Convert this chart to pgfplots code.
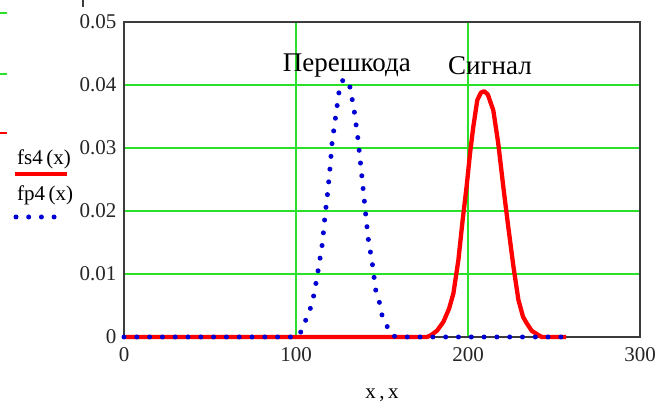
\documentclass[border=0pt]{standalone}
\usepackage{fontspec}
\setmainfont{Liberation Serif}
\usepackage{pgfplots}
\pgfplotsset{compat=1.18}
\definecolor{gridgreen}{RGB}{40,225,40}
\definecolor{axgray}{RGB}{60,60,60}
\definecolor{dotblue}{RGB}{0,0,210}
\begin{document}
\begin{tikzpicture}
\path[use as bounding box] (0pt,0pt) rectangle (666pt,403pt);
\begin{axis}[
  at={(124pt,66pt)}, anchor=south west, scale only axis,
  width=516pt, height=315pt,
  xmin=0, xmax=300, ymin=0, ymax=0.05,
  xtick={0,100,200,300},
  ytick={0,0.01,0.02,0.03,0.04,0.05},
  yticklabels={0,0.01,0.02,0.03,0.04,0.05},
  scaled y ticks=false,
  /pgf/number format/assume math mode=true,
  grid=major,
  major grid style={gridgreen, line width=1.3pt},
  axis line style={axgray, line width=1.6pt},
  major tick length=0pt,
  tick label style={font=\fontsize{21}{21}\selectfont, text=black!85},
  yticklabel style={anchor=east, xshift=-4pt},
  xticklabel style={anchor=north, yshift=-7pt},
  xlabel={x\,,\,x},
  xlabel style={font=\fontsize{21}{21}\selectfont, at={(axis description cs:0.5,0)}, anchor=center, yshift=-58pt},
  clip=false,
]
\addplot[red, line width=4.3pt, line join=round] coordinates {
(0,0)(176,0)(178,0.0002)(182,0.0010)(185.7,0.0024)(189,0.0045)(191.5,0.0069)
(194.4,0.0122)(196.9,0.0186)(199.2,0.0239)(201.2,0.0292)(203.1,0.0334)
(205.4,0.0376)(207.5,0.0388)(209.5,0.0390)(211.5,0.0385)(214.7,0.0360)
(217.6,0.0307)(220.5,0.0239)(223.4,0.0175)(226.4,0.0112)(229.3,0.0059)
(232,0.0032)(234.1,0.0022)(237,0.0010)(240.9,0.0003)(243,0)(257,0)
};
\addplot[dotblue, line width=5pt, line cap=round, dash pattern=on 0pt off 12.8pt] coordinates {
(0,0)(100,0)(102,0.0003)(106,0.0029)(108.7,0.0048)(110.5,0.0068)(113,0.0108)
(115.3,0.0148)(116.7,0.0188)(118.4,0.0229)(119.8,0.0269)(121,0.0309)
(123,0.0349)(125,0.0389)(127.5,0.0410)(129.5,0.0405)(131.5,0.0396)(134,0.0356)
(136,0.0315)(137.5,0.0276)(139,0.0236)(140.5,0.0195)(142,0.0156)(144.4,0.0116)
(146.3,0.0075)(148.4,0.0056)(150,0.0035)(153.3,0.0015)(156,0.0002)(159,0)(255,0)
};
\node[font=\fontsize{27}{27}\selectfont, anchor=base, inner sep=0pt] at (axis cs:129.6,0.0421) {Перешкода};
\node[font=\fontsize{27}{27}\selectfont, anchor=base, inner sep=0pt] at (axis cs:212.8,0.0416) {Сигнал};
\end{axis}
% legend (Mathcad style, left of the plot)
\node[font=\fontsize{21}{21}\selectfont, anchor=base west, inner sep=0pt] at (17pt,238pt) {fs4\,(x)};
\draw[red, line width=4.3pt] (15pt,229pt) -- (67pt,229pt);
\node[font=\fontsize{21}{21}\selectfont, anchor=base west, inner sep=0pt] at (17pt,202pt) {fp4\,(x)};
\draw[dotblue, line width=5pt, line cap=round, dash pattern=on 0pt off 12.7pt] (16pt,186pt) -- (56pt,186pt);
% cropped screenshot remnants
\draw[gridgreen, line width=1.3pt] (0pt,390pt) -- (7pt,390pt);
\draw[gridgreen, line width=1.3pt] (0pt,329pt) -- (7pt,329pt);
\draw[red, line width=1.5pt] (0pt,270pt) -- (7pt,270pt);
\draw[axgray, line width=1.6pt] (83pt,403pt) -- (83pt,396pt);
\end{tikzpicture}
\end{document}
